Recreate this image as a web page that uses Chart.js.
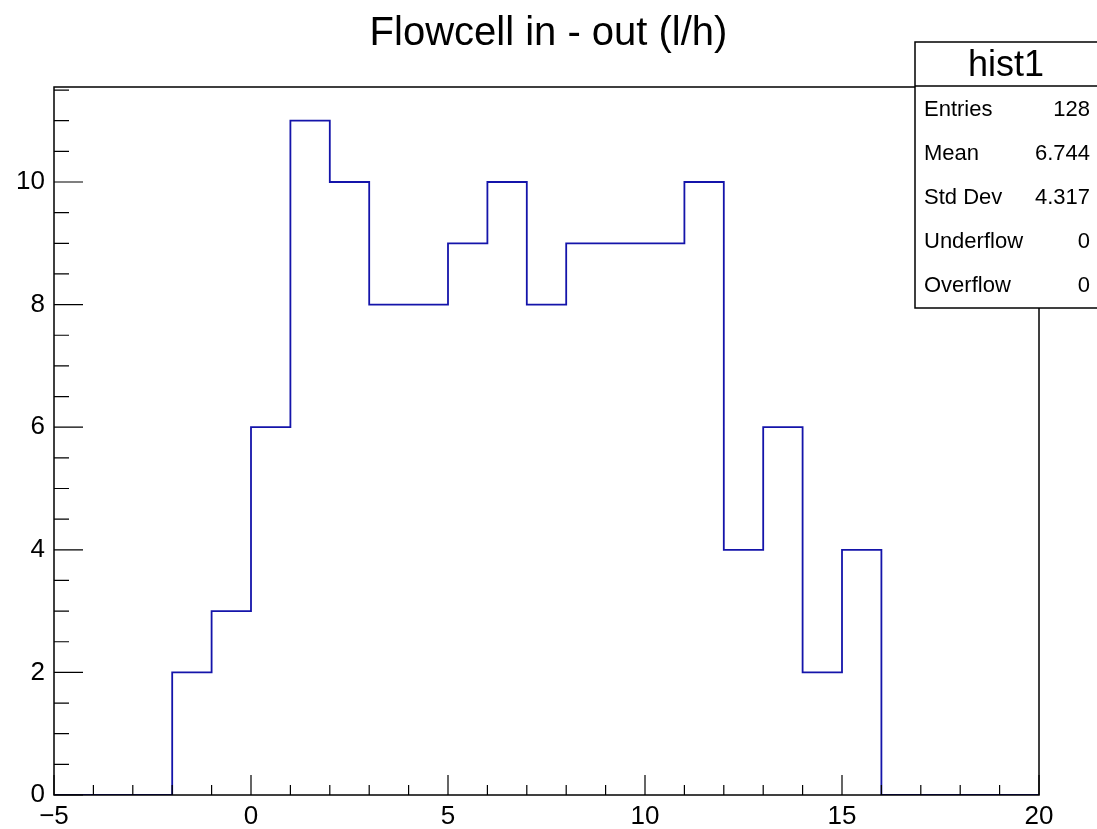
<!DOCTYPE html>
<html>
<head>
<meta charset="utf-8">
<script src="https://cdn.jsdelivr.net/npm/chart.js@4"></script>
<style>
  html, body { margin: 0; padding: 0; background: #fff; }
  #wrap { width: 1097px; height: 829px; }
</style>
</head>
<body>
<div id="wrap"><canvas id="histChart" width="1097" height="829"></canvas></div>
<script>
// Dados do histograma (bordas inferiores dos bins e contagens)
const binLow = [-5, -4, -3, -2, -1, 0, 1, 2, 3, 4, 5, 6, 7, 8, 9, 10, 11, 12, 13, 14, 15, 16, 17, 18, 19];
const counts = [0, 0, 0, 2, 3, 6, 11, 10, 8, 8, 9, 10, 8, 9, 9, 9, 10, 4, 6, 2, 4, 0, 0, 0, 0];
const xMin = -5, xMax = 20;
const yMax = 11.55;

const titulo = "Flowcell in - out (l/h)";
const statsNome = "hist1";
const statsLabels = ["Entries", "Mean", "Std Dev", "Underflow", "Overflow"];
const statsValores = ["128", "6.744", "4.317", "0", "0"];

// cada bin: sobe/desce na borda inferior e segue horizontal ate a proxima
const pontos = binLow.map((x, i) => ({ x: x, y: counts[i] }));
pontos.push({ x: xMax, y: 0 });

const FONTE = "'Liberation Sans', Arial, Helvetica, sans-serif";

// Ticks internos no estilo ROOT + moldura + titulo + caixa de estatisticas
const rootStyle = {
  id: 'rootStyle',
  afterDraw(chart) {
    const ctx = chart.ctx;
    const a = chart.chartArea;
    const xs = chart.scales.x, ys = chart.scales.y;
    ctx.save();
    ctx.strokeStyle = '#000';
    ctx.lineWidth = 1.5;
    ctx.strokeRect(a.left, a.top, a.right - a.left, a.bottom - a.top);

    ctx.lineWidth = 1.2;
    ctx.beginPath();
    // eixo x: maiores a cada 5, menores a cada 1
    for (let v = xMin; v <= xMax; v += 1) {
      const px = xs.getPixelForValue(v);
      const len = (v % 5 === 0) ? 20 : 10;
      ctx.moveTo(px, a.bottom);
      ctx.lineTo(px, a.bottom - len);
    }
    // eixo y: maiores a cada 2, menores a cada 0.5
    for (let v = 0; v <= yMax; v += 0.5) {
      const py = ys.getPixelForValue(v);
      const len = (v % 2 === 0) ? 29 : 15;
      ctx.moveTo(a.left, py);
      ctx.lineTo(a.left + len, py);
    }
    ctx.stroke();

    // titulo centrado no canvas
    ctx.fillStyle = '#000';
    ctx.textBaseline = 'middle';
    ctx.textAlign = 'center';
    ctx.font = '40px ' + FONTE;
    ctx.fillText(titulo, chart.width / 2, 34);

    // caixa de estatisticas
    const bx = 915, by = 42, bw = 200, bh = 266;
    ctx.fillStyle = '#fff';
    ctx.fillRect(bx, by, bw, bh);
    ctx.lineWidth = 1.5;
    ctx.strokeRect(bx, by, bw, bh);
    ctx.beginPath();
    ctx.moveTo(bx, 86);
    ctx.lineTo(bx + bw, 86);
    ctx.stroke();
    ctx.fillStyle = '#000';
    ctx.font = '36px ' + FONTE;
    ctx.fillText(statsNome, 1006, 66);
    ctx.font = '22px ' + FONTE;
    statsLabels.forEach((lab, i) => {
      const y = 110 + i * 44;
      ctx.textAlign = 'left';
      ctx.fillText(lab, 924, y);
      ctx.textAlign = 'right';
      ctx.fillText(statsValores[i], 1090, y);
    });
    ctx.restore();
  }
};

const config = {
  type: 'line',
  data: {
    datasets: [{
      data: pontos,
      stepped: 'before',
      borderColor: '#1414aa',
      borderWidth: 1.8,
      pointRadius: 0,
      fill: false
    }]
  },
  options: {
    responsive: false,
    animation: false,
    layout: { padding: { left: 0, right: 58, top: 87, bottom: 0 } },
    plugins: {
      legend: { display: false },
      tooltip: { enabled: false },
      title: { display: false }
    },
    scales: {
      x: {
        type: 'linear',
        min: xMin,
        max: xMax,
        grid: { display: false, drawTicks: false },
        border: { display: false },
        afterFit(scale) { scale.height = 34; },
        ticks: {
          stepSize: 5,
          padding: 6,
          color: '#000',
          maxRotation: 0,
          font: { family: FONTE, size: 26 },
          callback: v => String(v).replace('-', '\u2212')
        }
      },
      y: {
        min: 0,
        max: yMax,
        grid: { display: false, drawTicks: false },
        border: { display: false },
        afterFit(scale) { scale.width = 54; },
        ticks: {
          stepSize: 2,
          padding: 9,
          color: '#000',
          font: { family: FONTE, size: 26 },
          callback: v => (v % 2 === 0 ? String(v) : '')
        }
      }
    }
  },
  plugins: [rootStyle]
};

window.histChart = new Chart(document.getElementById('histChart').getContext('2d'), config);
</script>
</body>
</html>
